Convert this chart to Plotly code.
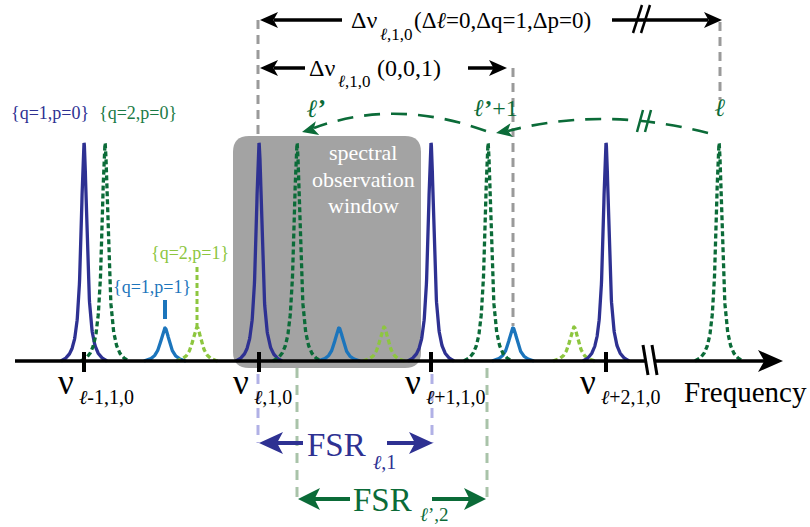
import numpy as np
import plotly.graph_objects as go

# ---------------- data (frequency axis in arb. units, intensity in arb. units) -------------
q1p0_freq = [84, 259, 431, 606]          # {q=1,p=0} resonances
q1p0_height = [218, 218, 218, 218]
q2p0_freq = [105, 297, 488, 719]         # {q=2,p=0} resonances
q2p0_height = [218, 218, 218, 218]
q1p1_freq = [165, 339, 513]              # {q=1,p=1} resonances
q1p1_height = [33, 33, 33]
q2p1_freq = [197, 384, 574]              # {q=2,p=1} resonances
q2p1_height = [34, 34, 34]

tick_freq = [84, 259, 431, 606]
tick_subs = ["<i>ℓ</i>-1,1,0", "<i>ℓ</i>,1,0", "<i>ℓ</i>+1,1,0", "<i>ℓ</i>+2,1,0"]

# ---------------- styling ----------------
W, H = 810, 527
BASE = 361
DBLUE = "#2e3192"
DGREEN = "#0b6b38"
LBLUE = "#1c75bc"
LGREEN = "#8dc63f"
GRAYD = "#9a9a9a"
FONT = "Liberation Serif, DejaVu Serif, serif"


def lorentz(x0, h, gamma, half):
    x = np.linspace(x0 - half, x0 + half, 241)
    L = gamma**2 / ((x - x0) ** 2 + gamma**2)
    Le = gamma**2 / (half**2 + gamma**2)
    y = h * (L - Le) / (1 - Le)
    return x, BASE - y


def family(freqs, heights, gamma, half):
    xs, ys = [], []
    for f, h in zip(freqs, heights):
        x, y = lorentz(f, h, gamma, half)
        xs += list(x) + [None]
        ys += list(y) + [None]
    return xs, ys


fig = go.Figure()

for freqs, heights, gam, half, col, dash in [
    (q1p1_freq, q1p1_height, 5.5, 21, LBLUE, "solid"),
    (q2p1_freq, q2p1_height, 5.5, 21, LGREEN, "5px,3px"),
    (q1p0_freq, q1p0_height, 3.5, 23, DBLUE, "solid"),
    (q2p0_freq, q2p0_height, 3.7, 24, DGREEN, "5px,3px"),
]:
    xs, ys = family(freqs, heights, gam, half)
    fig.add_trace(go.Scatter(x=xs, y=ys, mode="lines",
                             line=dict(color=col, width=3.3, dash=dash),
                             hoverinfo="skip", showlegend=False))

shapes = []
annos = []


def seg(x0, y0, x1, y1, color, width, dash="solid", layer="above"):
    shapes.append(dict(type="line", xref="x", yref="y", x0=x0, y0=y0, x1=x1, y1=y1,
                       line=dict(color=color, width=width, dash=dash), layer=layer))


def head(tx, ty, ux, uy, L, Wd, color, notch=0.25):
    n = (ux**2 + uy**2) ** 0.5
    ux, uy = ux / n, uy / n
    px, py = -uy, ux
    bx, by = tx - ux * L, ty - uy * L
    nx, ny = tx - ux * L * (1 - notch), ty - uy * L * (1 - notch)
    p = (f"M {tx},{ty} L {bx + px * Wd},{by + py * Wd} L {nx},{ny} "
         f"L {bx - px * Wd},{by - py * Wd} Z")
    shapes.append(dict(type="path", xref="x", yref="y", path=p, fillcolor=color,
                       line=dict(width=0), layer="above"))


def text(x, y, s, size, color="black", xanchor="left", yanchor="middle"):
    annos.append(dict(x=x, y=y, xref="x", yref="y", text=s, showarrow=False,
                      xanchor=xanchor, yanchor=yanchor, borderpad=0,
                      font=dict(family=FONT, size=size, color=color)))


# spectral observation window
r = 16
x0, x1, y0, y1 = 233, 421, 136, 368
shapes.append(dict(type="path", xref="x", yref="y", layer="below",
                   path=(f"M {x0+r},{y0} L {x1-r},{y0} Q {x1},{y0} {x1},{y0+r} "
                         f"L {x1},{y1-r} Q {x1},{y1} {x1-r},{y1} L {x0+r},{y1} "
                         f"Q {x0},{y1} {x0},{y1-r} L {x0},{y0+r} Q {x0},{y0} {x0+r},{y0} Z"),
                   fillcolor="#a3a3a3", line=dict(width=0)))
text(363, 152, "spectral", 22, "white", "center")
text(363, 179, "observation", 22, "white", "center")
text(363, 205, "window", 22, "white", "center")

# frequency axis
seg(15, BASE, 765, BASE, "black", 3.5)
head(783, BASE, 1, 0, 25, 11, "black")
shapes.append(dict(type="rect", xref="x", yref="y", x0=645, x1=655, y0=BASE - 3, y1=BASE + 3,
                   fillcolor="white", line=dict(width=0), layer="above"))
seg(643, 345, 648, 375, "black", 3)
seg(652, 345, 657, 375, "black", 3)
for t, s in zip(tick_freq, tick_subs):
    seg(t, 352, t, 372, "black", 4)
    text(t - 27, 382, "ν", 35)
    text(t - 6, 397, s, 20)
text(683, 392, "Frequency", 29)

# reference verticals
seg(258, 20, 258, 140, GRAYD, 3, "9px,6px")
seg(720, 22, 720, 100, GRAYD, 3, "9px,6px")
seg(513, 68, 513, 326, GRAYD, 3, "9px,6px")
seg(258, 374, 258, 443, "#b1b1e6", 3, "10px,7px")
seg(432, 374, 432, 443, "#b1b1e6", 3, "10px,7px")
seg(297, 368, 297, 499, "#a9c3a9", 3, "10px,7px")
seg(487, 368, 487, 499, "#a9c3a9", 3, "10px,7px")

# top Δν arrows
seg(274, 20, 342, 20, "black", 3.5)
head(260, 20, -1, 0, 18, 8, "black")
seg(612, 20, 708, 20, "black", 3.5)
head(722, 20, 1, 0, 18, 8, "black")
seg(633, 33, 642, 5, "black", 2.5)
seg(641, 33, 650, 5, "black", 2.5)
text(350, 20, "Δν", 24)
text(379, 34, "<i>ℓ</i>,1,0", 17)
text(413, 20, "(Δ<i>ℓ</i>=0,Δq=1,Δp=0)", 23)

seg(274, 68, 305, 68, "black", 3.5)
head(260, 68, -1, 0, 18, 8, "black")
seg(468, 68, 494, 68, "black", 3.5)
head(507, 68, 1, 0, 18, 8, "black")
text(308, 68, "Δν", 24)
text(337, 81, "<i>ℓ</i>,1,0", 17)
text(376, 68, "(0,0,1)", 24)

# green mode-jump arcs
shapes.append(dict(type="path", xref="x", yref="y", layer="above",
                   path="M 486,131 Q 395,98 314,128",
                   line=dict(color=DGREEN, width=2.6, dash="16px,11px")))
head(302, 132, -1, 0.25, 16, 7, DGREEN)
shapes.append(dict(type="path", xref="x", yref="y", layer="above",
                   path="M 708,133 Q 603,106 508,131",
                   line=dict(color=DGREEN, width=2.6, dash="16px,11px")))
head(496, 133, -1, 0.18, 16, 7, DGREEN)
seg(637, 132, 643, 110, DGREEN, 2.5)
seg(645, 132, 651, 110, DGREEN, 2.5)
text(316, 108, "<b><i>ℓ</i>’</b>", 25, DGREEN, "center")
text(496, 108, "<b><i>ℓ</i>’</b>+1", 24, DGREEN, "center")
text(720, 107, "<b><i>ℓ</i></b>", 25, DGREEN, "center")

# mode-family labels
text(50, 113, "{q=1,p=0}", 18, DBLUE, "center")
text(138, 113, "{q=2,p=0}", 18, "#1a7a45", "center")
text(190, 253, "{q=2,p=1}", 18, LGREEN, "center")
text(152, 287, "{q=1,p=1}", 18, LBLUE, "center")
seg(165, 300, 165, 319, LBLUE, 4)
seg(197, 267, 197, 326, LGREEN, 3, "5px,3px")

# FSR arrows
seg(275, 443, 303, 443, DBLUE, 4)
head(259, 443, -1, 0, 24, 11, DBLUE)
seg(387, 443, 417, 443, DBLUE, 4)
head(433, 443, 1, 0, 24, 11, DBLUE)
text(306, 445, "FSR", 33, DBLUE)
text(372, 462, "<i>ℓ</i>,1", 20, DBLUE)

seg(314, 499, 350, 499, DGREEN, 4)
head(298, 499, -1, 0, 22, 11, DGREEN)
seg(432, 499, 470, 499, DGREEN, 4)
head(486, 499, 1, 0, 22, 11, DGREEN)
text(352, 500, "FSR", 33, DGREEN)
text(419, 514, "<i>ℓ</i>’,2", 19, DGREEN)

fig.update_layout(
    width=W, height=H, margin=dict(l=0, r=0, t=0, b=0),
    paper_bgcolor="white", plot_bgcolor="white",
    xaxis=dict(range=[0, W], visible=False, fixedrange=True),
    yaxis=dict(range=[H, 0], visible=False, fixedrange=True),
    shapes=shapes, annotations=annos, showlegend=False, hovermode=False,
)
fig.write_html("out.html", config={"displayModeBar": False},
               post_script="document.body.style.margin='0px';document.body.style.overflow='hidden';")
